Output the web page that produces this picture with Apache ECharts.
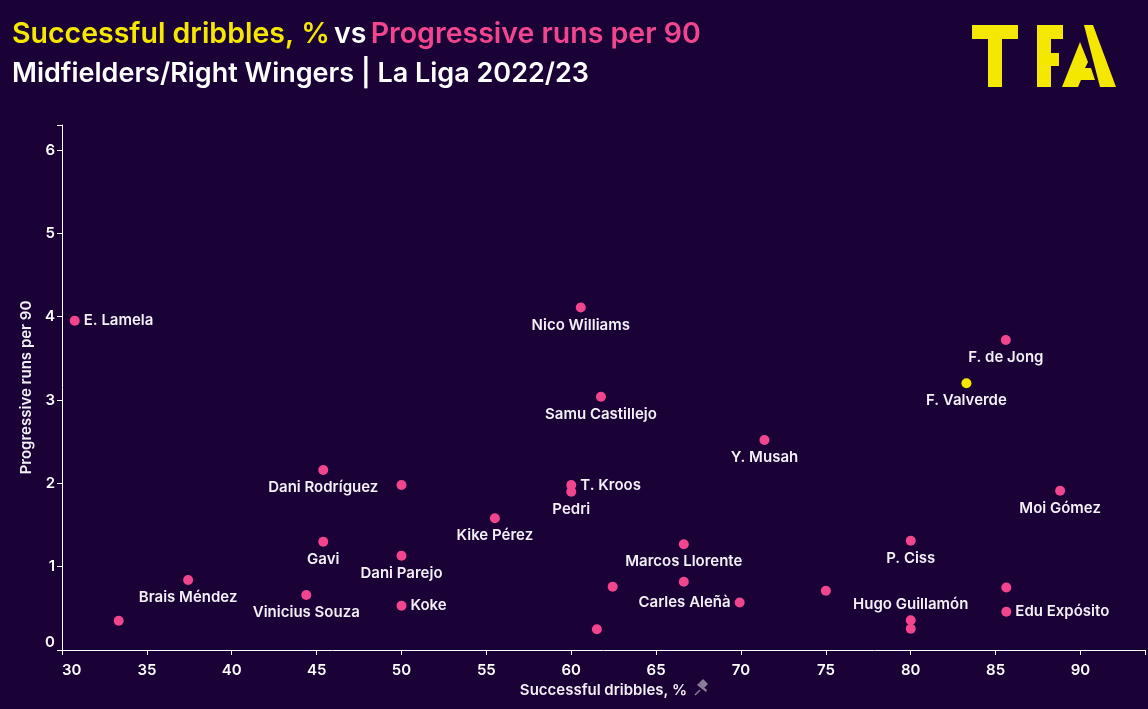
<!DOCTYPE html>
<html>
<head>
<meta charset="utf-8">
<script src="https://cdn.jsdelivr.net/npm/echarts@6/dist/echarts.min.js"></script>
<style>
html,body{margin:0;padding:0;background:#1a0136;}
#chart{width:1148px;height:709px;}
</style>
</head>
<body>
<div id="chart"></div>
<script>
// ---- data ----
const players = ["E. Lamela","Nico Williams","F. de Jong","F. Valverde","Samu Castillejo","Y. Musah","Dani Rodríguez","","T. Kroos","Pedri","Moi Gómez","Kike Pérez","Gavi","P. Ciss","Marcos Llorente","Dani Parejo","Brais Méndez","","","","","Vinicius Souza","Carles Aleñà","Koke","Edu Expósito","Hugo Guillamón","","",""];
const dribblesPct = [30.75,60.56,85.6,83.28,61.75,71.38,45.39,50.0,60.0,60.0,88.8,55.5,45.39,80.0,66.63,50.0,37.43,66.63,62.44,85.63,75.0,44.39,69.92,50.0,85.63,80.0,80.0,33.34,61.51];
const progRuns = [3.95,4.11,3.72,3.20,3.04,2.52,2.16,1.98,1.98,1.90,1.91,1.58,1.30,1.31,1.27,1.13,0.84,0.82,0.76,0.75,0.71,0.66,0.57,0.53,0.46,0.356,0.256,0.35,0.25];
const highlighted = ["F. Valverde"];
const xTicks = [30,35,40,45,50,55,60,65,70,75,80,85,90];
const yTicks = [0,1,2,3,4,5,6];

// ---- label placement (style) ----
const labelSide = {"E. Lamela":"right","T. Kroos":"right","Koke":"right","Edu Expósito":"right","Carles Aleñà":"left","Hugo Guillamón":"top"};

const BG = "#1a0136", PINK = "#f2458f", YELLOW = "#f5e800", TXT = "#f3f0f7";
const FONT = "Inter,'Open Sans',sans-serif";

const data = players.map((n,i)=>{
  const side = labelSide[n] || "bottom";
  return {
    value:[dribblesPct[i],progRuns[i]],
    name:n,
    itemStyle:{color: highlighted.includes(n)?YELLOW:PINK, opacity:1},
    label:{show:n!=="",position:side,distance: side==="bottom"?5:(side==="top"?3:4)}
  };
});

const chart = echarts.init(document.getElementById('chart'));
chart.setOption({
  backgroundColor: BG,
  animation:false,
  textStyle:{fontFamily:FONT},
  title:[{
    left:12, top:20, padding:0,
    text:"{y|Successful dribbles, %} {w|vs} {p|Progressive runs per 90}",
    textStyle:{
      rich:{
        y:{color:YELLOW,fontSize:28.5,fontWeight:600,fontFamily:FONT},
        w:{color:"#ffffff",fontSize:28.5,fontWeight:600,fontFamily:FONT},
        p:{color:PINK,fontSize:28.5,fontWeight:600,fontFamily:FONT}
      }
    }
  },{
    left:12, top:60, padding:0,
    text:"Midfielders/Right Wingers | La Liga 2022/23",
    textStyle:{color:"#ffffff",fontSize:27,fontWeight:600,fontFamily:FONT}
  }],
  grid:{left:62,right:2,top:125,bottom:59,containLabel:false},
  xAxis:{
    type:'value', min:30, max:93.8, interval:5,
    name:"Successful dribbles, %",
    nameLocation:'middle', nameGap:32,
    nameTextStyle:{color:TXT,fontSize:15,fontWeight:600,fontFamily:FONT},
    axisLine:{lineStyle:{color:"#ffffff",width:1}},
    axisTick:{show:true,length:5,lineStyle:{color:"#ffffff"}},
    splitLine:{show:false},
    axisLabel:{color:"#ffffff",fontSize:15,fontWeight:600,margin:13,alignMinLabel:'left',
      formatter:v=> xTicks.includes(v)?String(v):''}
  },
  yAxis:{
    type:'value', min:0, max:6.3, interval:1,
    name:"Progressive runs per 90",
    nameLocation:'middle', nameGap:23,
    nameTextStyle:{color:TXT,fontSize:15,fontWeight:600,fontFamily:FONT},
    axisLine:{show:true,lineStyle:{color:"#ffffff",width:1}},
    axisTick:{show:true,length:5,lineStyle:{color:"#ffffff"}},
    splitLine:{show:false},
    axisLabel:{color:"#ffffff",fontSize:15,fontWeight:600,margin:7,verticalAlignMinLabel:'bottom',
      formatter:v=> yTicks.includes(v)?String(v):''}
  },
  series:[{
    type:'scatter',
    symbolSize:10,
    data:data,
    label:{
      formatter:p=>p.name,
      color:TXT,fontSize:15,fontWeight:600,fontFamily:FONT
    },
    labelLayout:{hideOverlap:false}
  }],
  graphic:[
    // TFA logo
    {type:'polygon',shape:{points:[[972,25],[1018,25],[1018,39],[1002,39],[1002,87],[988,87],[988,39],[972,39]]},style:{fill:YELLOW}},
    {type:'polygon',shape:{points:[[1037,25],[1063,25],[1063,39],[1051,39],[1051,53],[1059,53],[1059,66],[1051,66],[1051,87],[1037,87]]},style:{fill:YELLOW}},
    {type:'polygon',shape:{points:[[1084,25],[1093,25],[1116,87],[1100,87]]},style:{fill:YELLOW}},
    {type:'polygon',shape:{points:[[1080,42],[1088,62],[1085,68],[1091,68],[1095,80],[1081,80],[1078,87],[1062,87]]},style:{fill:YELLOW}},
    // pin icon next to x-axis name
    {type:'polygon',shape:{points:[[699,683],[703,679],[708,684],[704,688]]},style:{fill:"#8a7f99"}},
    {type:'polygon',shape:{points:[[697,685],[706,692],[707,690],[699,683]]},style:{fill:"#8a7f99"}},
    {type:'line',shape:{x1:700,y1:690,x2:695,y2:695},style:{stroke:"#8a7f99",lineWidth:1.5}}
  ]
});
</script>
</body>
</html>
